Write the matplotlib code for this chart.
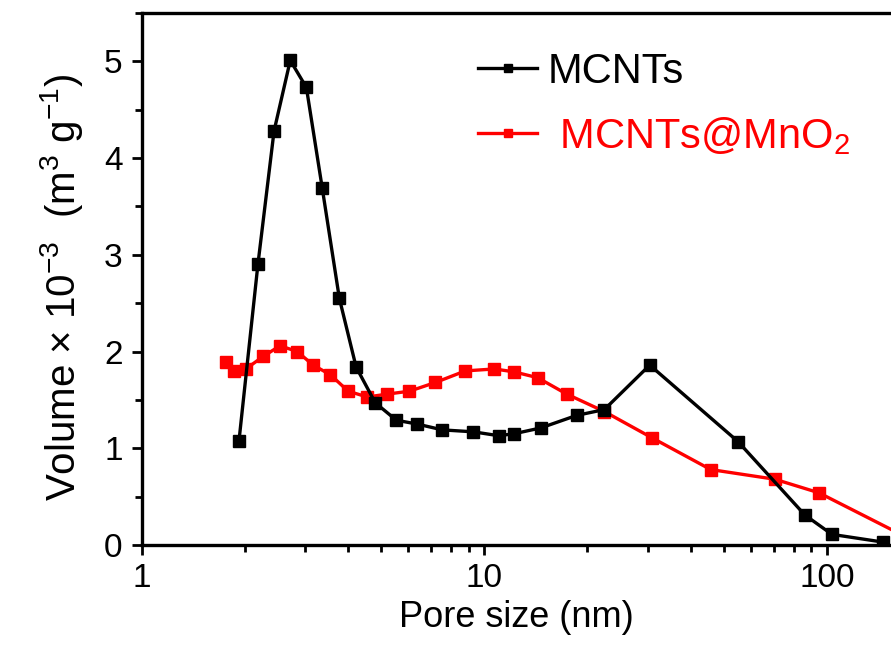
import matplotlib
matplotlib.use("Agg")
import matplotlib.pyplot as plt
from matplotlib.ticker import LogLocator, NullFormatter, MultipleLocator

plt.rcParams['font.family'] = ['Liberation Sans', 'DejaVu Sans']
plt.rcParams['mathtext.fontset'] = 'custom'
plt.rcParams['mathtext.rm'] = 'Liberation Sans'
plt.rcParams['mathtext.it'] = 'Liberation Sans'

# pore size (nm) and volume (x1e-3 m^3/g)
mcnt_x = [1.92, 2.18, 2.43, 2.71, 3.02, 3.36, 3.77, 4.22, 4.80, 5.53, 6.37,
          7.54, 9.29, 11.0, 12.2, 14.6, 18.6, 22.4, 30.4, 55.0, 86.3, 103.5, 146]
mcnt_y = [1.08, 2.90, 4.28, 5.01, 4.73, 3.69, 2.55, 1.84, 1.47, 1.29, 1.25,
          1.19, 1.17, 1.13, 1.15, 1.21, 1.34, 1.40, 1.86, 1.07, 0.31, 0.11, 0.03]

mno2_x = [1.76, 1.85, 2.01, 2.26, 2.53, 2.84, 3.16, 3.55, 4.00, 4.55, 5.2,
          6.04, 7.19, 8.8, 10.7, 12.2, 14.3, 17.4, 22.4, 30.8, 45.8, 70.5, 94.8, 180]
mno2_y = [1.89, 1.80, 1.82, 1.95, 2.06, 2.00, 1.86, 1.76, 1.59, 1.53, 1.56,
          1.59, 1.68, 1.80, 1.82, 1.79, 1.73, 1.56, 1.38, 1.11, 0.78, 0.68, 0.54, 0.04]

fig = plt.figure(figsize=(8.91, 6.52), dpi=100)
ax = fig.add_axes([0.1594, 0.1641, 0.8406, 0.816])

ax.plot(mcnt_x, mcnt_y, '-s', color='black', lw=2.4, ms=8.5, label='MCNTs', zorder=3)
ax.plot(mno2_x, mno2_y, '-s', color='#ff0000', lw=2.4, ms=8.5, label=' MCNTs@MnO$_2$', zorder=2)

ax.set_xscale('log')
ax.set_xlim(1, 154)
ax.set_ylim(0, 5.5)

ax.xaxis.set_minor_locator(LogLocator(base=10, subs=range(2, 10), numticks=10))
ax.xaxis.set_minor_formatter(NullFormatter())
ax.set_xticks([1, 10, 100])
ax.set_xticklabels(['1', '10', '100'])
ax.yaxis.set_major_locator(MultipleLocator(1))
ax.yaxis.set_minor_locator(MultipleLocator(0.5))

ax.tick_params(which='major', direction='out', length=7, width=2, labelsize=24)
ax.tick_params(which='minor', direction='out', length=5, width=2)
ax.tick_params(axis='x', pad=6)
ax.tick_params(axis='y', pad=7)

for s in ['left', 'bottom', 'top']:
    ax.spines[s].set_linewidth(2.4)
ax.spines['right'].set_visible(False)

ax.set_xlabel('Pore size (nm)', fontsize=26, labelpad=4)
ax.set_ylabel('Volume × 10$^{-3}$  (m$^3$ g$^{-1}$)', fontsize=29, labelpad=14)
ax.yaxis.label.set_y(0.485)

leg = ax.legend(loc='upper left', bbox_to_anchor=(0.449, 0.927), frameon=False,
                fontsize=30, handlelength=1.41, handletextpad=0.26, borderpad=0,
                borderaxespad=0, labelspacing=0.55, labelcolor='linecolor',
                markerscale=0.7)

fig.savefig('out.png', dpi=100)
